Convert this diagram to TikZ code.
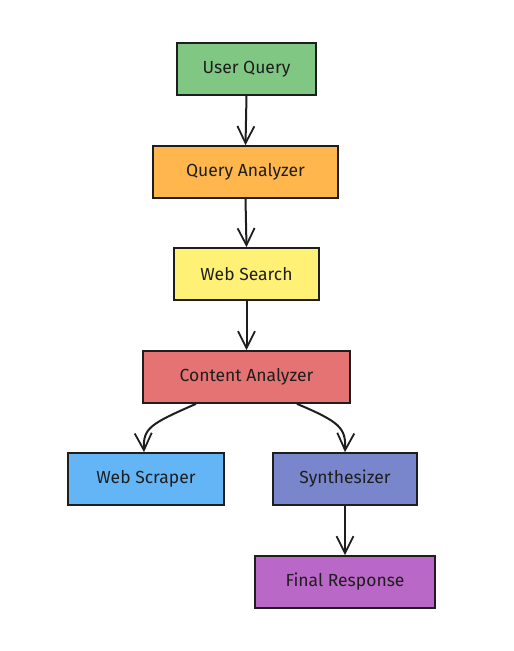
\documentclass[tikz,border=0pt]{standalone}
\usepackage{fontspec}
\setmainfont{Fira Sans}
\usetikzlibrary{arrows.meta}
\definecolor{cgreen}{HTML}{81C784}
\definecolor{corange}{HTML}{FFB74D}
\definecolor{cyellow}{HTML}{FFF176}
\definecolor{cred}{HTML}{E57373}
\definecolor{cblue}{HTML}{64B5F6}
\definecolor{cindigo}{HTML}{7986CB}
\definecolor{cpurple}{HTML}{BA68C8}
\definecolor{ink}{HTML}{1E1E1E}
\begin{document}
\begin{tikzpicture}[x=1pt,y=-1pt,
  box/.style={draw=ink, line width=1.7pt, minimum height=52pt, inner sep=0pt, font=\fontsize{17.5}{20}\selectfont, text=ink},
  conn/.style={draw=ink, line width=2pt, -{Straight Barb[length=17pt,width=17pt,line width=1.8pt]}}]
\useasboundingbox (0,0) rectangle (514,651);
\node[box, fill=cgreen, minimum width=139pt] (uq) at (246.5,69) {User Query};
\node[box, fill=corange, minimum width=185pt] (qa) at (245.5,172) {Query Analyzer};
\node[box, fill=cyellow, minimum width=145pt] (ws) at (246.5,274) {Web Search};
\node[box, fill=cred, minimum width=207pt] (ca) at (246.5,377) {Content Analyzer};
\node[box, fill=cblue, minimum width=156pt] (sc) at (146,479) {Web Scraper};
\node[box, fill=cindigo, minimum width=144pt] (sy) at (345,479) {Synthesizer};
\node[box, fill=cpurple, minimum width=180pt] (fr) at (345,582) {Final Response};
\draw[conn] (uq.south) -- (qa.north);
\draw[conn] (qa.south) -- (ws.north);
\draw[conn] (ws.south) -- (ca.north);
\draw[conn] (ca.south -| 196,0) .. controls (150,424) and (143,428) .. (sc.north -| 144,0);
\draw[conn] (ca.south -| 297,0) .. controls (340,422) and (346,428) .. (sy.north);
\draw[conn] (sy.south) -- (fr.north);
\end{tikzpicture}
\end{document}
